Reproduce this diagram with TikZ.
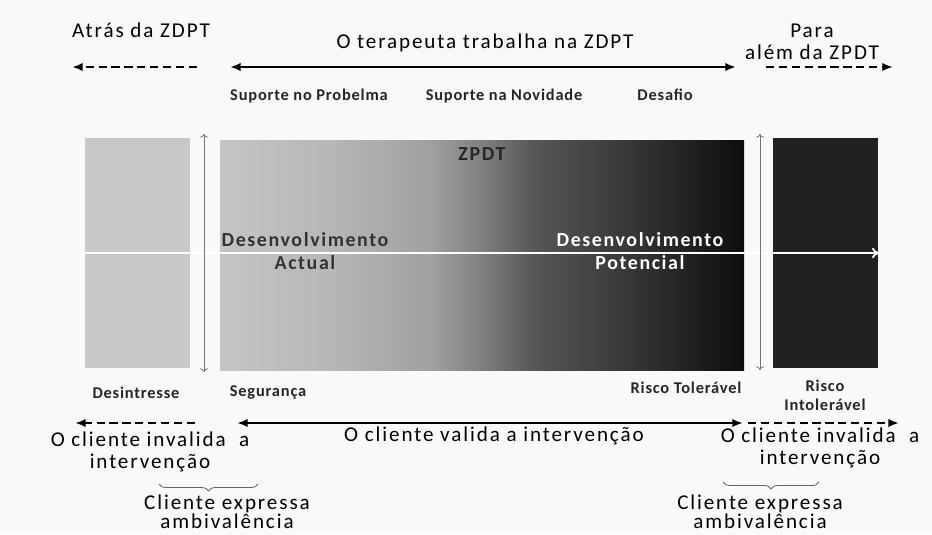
\documentclass[tikz,border=0pt]{standalone}
\usepackage{fontspec}
\setmainfont{Carlito}
\newfontfamily\spacedfont[LetterSpace=9]{Carlito}
\newfontfamily\smallspaced[LetterSpace=5]{Carlito}
\newfontfamily\boxspaced[LetterSpace=8]{Carlito}
\usepackage{tikz}
\usetikzlibrary{positioning, calc, arrows.meta, decorations.pathreplacing}
\definecolor{PaperBg}{gray}{0.975}
\definecolor{ZoneLight}{gray}{0.785}
\definecolor{ZoneDark}{gray}{0.13}
\pgfdeclarehorizontalshading{zpdtshade}{100bp}{%
  color(0bp)=(black!23); color(25bp)=(black!23); color(35bp)=(black!28);
  color(45bp)=(black!37); color(50bp)=(black!50); color(55bp)=(black!66);
  color(65bp)=(black!80); color(75bp)=(black!95); color(100bp)=(black!95)}
\tikzset{
    headtxt/.style={
        font=\spacedfont\fontsize{18}{19}\selectfont, inner sep=0pt, align=center
    },
    ambtxt/.style={
        font=\spacedfont\fontsize{18}{15}\selectfont, inner sep=0pt, align=center
    },
    smalltxt/.style={
        font=\smallspaced\bfseries\fontsize{14}{16}\selectfont, inner sep=0pt, align=center, text=black!85
    },
    boxtxt/.style={
        font=\boxspaced\bfseries\fontsize{17}{19}\selectfont, inner sep=0pt, align=center
    },
    solidarr/.style={
        {Latex[length=9pt,width=7pt]}-{Latex[length=9pt,width=7pt]}, line width=2.3pt
    },
    dasharr/.style={
        -{Latex[length=9pt,width=7pt]}, line width=2.3pt, dash pattern=on 7pt off 4pt
    },
    sidearr/.style={
        {To}-{To}, black!55, line width=0.7pt
    },
    bracemark/.style={
        decorate, decoration={brace, mirror, amplitude=6pt}, black!60, line width=0.7pt
    }
}
\begin{document}
\begin{tikzpicture}[x=0.03cm, y=-0.03cm]
    \fill[PaperBg] (0,0) rectangle (932,534);
    \useasboundingbox (0,0) rectangle (932,534);

    % --- zonas ---
    \fill[ZoneLight] (85,138) rectangle (190,368);
    \shade[shading=zpdtshade] (220,140) rectangle (744,370);
    \fill[ZoneDark] (773,138) rectangle (878,368);

    % linha horizontal branca
    \coordinate (hstart) at (85,253);
    \coordinate (hend) at (879,253);
    \draw[white, line width=1.6pt, -{To[length=6pt,width=9pt]}] (hstart) -- (hend);

    % setas verticais
    \coordinate (lvtop) at (204,134);
    \coordinate (lvbot) at (204,372);
    \coordinate (rvtop) at (760,134);
    \coordinate (rvbot) at (760,370);
    \draw[sidearr] (lvtop) -- (lvbot);
    \draw[sidearr] (rvtop) -- (rvbot);

    % textos dentro da ZPDT
    \node[boxtxt, text=black!85] (zpdt) at (482,154) {ZPDT};
    \node[boxtxt, text=black!80] (dactual) at (305,251) {Desenvolvimento\\Actual};
    \node[boxtxt, text=white] (dpot) at (640,251) {Desenvolvimento\\Potencial};

    % --- topo ---
    \node[headtxt] (atras) at (141,30) {Atrás da ZDPT};
    \node[headtxt] (terap) at (485,43) {O terapeuta trabalha na ZDPT};
    \node[headtxt] (alem) at (812,42) {Para\\além da ZPDT};

    \coordinate (ta1) at (197,67);
    \coordinate (ta2) at (72,67);
    \coordinate (tb1) at (230,67);
    \coordinate (tb2) at (736,67);
    \coordinate (tc1) at (766,67);
    \coordinate (tc2) at (893,67);
    \draw[dasharr] (ta1) -- (ta2);
    \draw[solidarr] (tb1) -- (tb2);
    \draw[dasharr] (tc1) -- (tc2);

    \node[smalltxt] (supprob) at (309,96) {Suporte no Probelma};
    \node[smalltxt] (supnov) at (504,96) {Suporte na Novidade};
    \node[smalltxt] (desafio) at (665,95) {Desafio};

    % --- base ---
    \node[smalltxt] (desint) at (136,393) {Desintresse};
    \node[smalltxt] (segur) at (268,393) {Segurança};
    \node[smalltxt] (rtol) at (686,388) {Risco Tolerável};
    \node[smalltxt] (rintol) at (825,395) {Risco\\Intolerável};

    \coordinate (ba1) at (195,423);
    \coordinate (ba2) at (75,423);
    \coordinate (bb1) at (237,423);
    \coordinate (bb2) at (743,423);
    \coordinate (bc1) at (748,423);
    \coordinate (bc2) at (899,423);
    \draw[dasharr] (ba1) -- (ba2);
    \draw[solidarr] (bb1) -- (bb2);
    \draw[dasharr] (bc1) -- (bc2);

    \node[headtxt] (invl) at (150,452) {O cliente invalida \ a\\intervenção};
    \node[headtxt] (valid) at (494,436) {O cliente valida a intervenção};
    \node[headtxt] (invr) at (820,448) {O cliente invalida \ a\\intervenção};

    % chavetas
    \coordinate (bl1) at (159,484);
    \coordinate (bl2) at (258,484);
    \coordinate (br1) at (723,482);
    \coordinate (br2) at (819,482);
    \draw[bracemark] (bl1) -- (bl2);
    \draw[bracemark] (br1) -- (br2);
    \node[ambtxt] (ambl) at (227,512) {Cliente expressa\\ambivalência};
    \node[ambtxt] (ambr) at (760,512) {Cliente expressa\\ambivalência};
\end{tikzpicture}
\end{document}
